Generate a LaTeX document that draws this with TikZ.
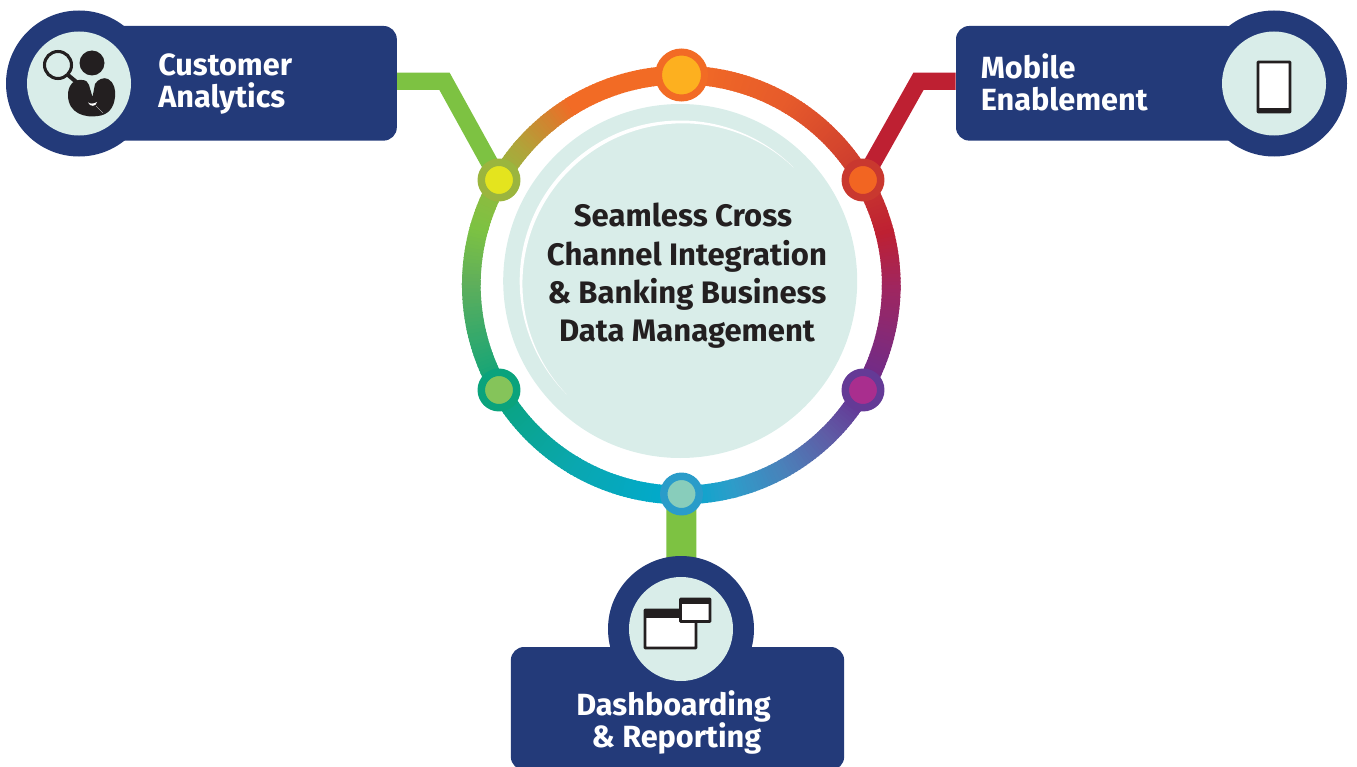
\documentclass[tikz,border=0pt]{standalone}
\usepackage{fontspec}
\setmainfont{Fira Sans}
\usepackage{xcolor}
\definecolor{navy}{HTML}{233A79}
\definecolor{paleteal}{HTML}{D9EDE9}
\definecolor{inkblack}{HTML}{231F20}
\definecolor{linkgreen}{HTML}{7DC242}
\definecolor{linkred}{HTML}{BE2032}
\definecolor{ringorange}{HTML}{F26B25}
\definecolor{ringamber}{HTML}{FDB01F}
\definecolor{ringbrick}{HTML}{C9382F}
\definecolor{ringflame}{HTML}{F26522}
\definecolor{ringviolet}{HTML}{643A96}
\definecolor{ringmagenta}{HTML}{A92E8E}
\definecolor{ringblue}{HTML}{2A9CC9}
\definecolor{ringmint}{HTML}{88CDBB}
\definecolor{ringteal}{HTML}{0AA37C}
\definecolor{ringleaf}{HTML}{85C45A}
\definecolor{ringolive}{HTML}{9BB53E}
\definecolor{ringyellow}{HTML}{E4E41E}
\usepackage{tikz}
\usetikzlibrary{
    backgrounds,
    positioning
}
\tikzstyle{panel} = [
    rectangle,
    rounded corners=10pt,
    fill=navy,
    inner sep=0pt
]
\tikzstyle{badge} = [
    circle,
    fill=navy,
    minimum size=109.5pt,
    inner sep=0pt
]
\tikzstyle{badgeface} = [
    circle,
    fill=paleteal,
    minimum size=78pt,
    inner sep=0pt
]
\tikzstyle{ringdot} = [
    circle,
    minimum size=26.6pt,
    line width=5.6pt,
    inner sep=0pt,
    outer sep=0pt
]
\tikzstyle{boxlabel} = [
    text=white,
    font=\fontsize{23}{24}\selectfont\bfseries,
    align=left,
    inner sep=0pt
]
\tikzstyle{link} = [
    line width=13pt,
    line join=miter
]
\tikzstyle{iconline} = [
    draw=inkblack,
    line width=2.2pt,
    rounded corners=0.6pt
]

\begin{document}
\begin{tikzpicture}[x=0.75pt, y=-0.75pt]
\useasboundingbox (0,0) rectangle (1357,767);

\coordinate (ringc) at (681.3,285);
\coordinate (discc) at (680.2,281);

% colour ring
\foreach \from/\to/\colfrom/\colto in {
    0/30/F26B25/E65A2B, 30/60/E65A2B/C9382F, 60/75/C9382F/BE2032,
    75/90/BE2032/A0265F, 90/120/A0265F/662D91, 120/135/662D91/5F5BA5,
    135/150/5F5BA5/4B80B9, 150/165/4B80B9/2E9CC9, 165/180/2E9CC9/00AACF,
    180/210/00AACF/0AA7B0, 210/240/0AA7B0/0AA37C, 240/270/0AA37C/5FAF5B,
    270/285/5FAF5B/7DC242, 285/300/7DC242/94B83E, 300/310/94B83E/B0A43A,
    310/320/B0A43A/D08530, 320/328/D08530/F26B25, 328/360/F26B25/F26B25} {
    \definecolor{spanfrom}{HTML}{\colfrom}
    \definecolor{spanto}{HTML}{\colto}
    \foreach \t in {\from,...,\to} {
        \pgfmathsetmacro{\pct}{100*(\t-\from)/(\to-\from)}
        \pgfmathsetmacro{\ang}{\t-90}
        \draw [spanto!\pct!spanfrom, line width=14pt]
            (ringc) ++(\ang:210) arc[start angle=\ang, delta angle=1.4, radius=210];
    }
}

% centre disc with its white crescent
\node (disc) [circle, fill=paleteal, minimum size=265.5pt, inner sep=0pt] at (discc) {};
\fill [white] (discc) ++(-45:160.5) arc[start angle=-45, end angle=-225, radius=160.5]
    arc[start angle=-223.6, end angle=-46.4, radius=160.5] -- cycle;
\node (title) [text=inkblack, font=\fontsize{23.3}{28.7}\selectfont\bfseries, align=center, inner sep=0pt] at (687,276)
    {Seamless Cross\hspace*{6pt}\\Channel Integration\\\& Banking Business\\Data Management};

% dots on the ring
\node (topdot) [ringdot, minimum size=34.5pt, line width=5.25pt, draw=ringorange, fill=ringamber] at (681.5,75) {};
\node (nedot) [ringdot, draw=ringbrick, fill=ringflame] at (863,180) {};
\node (sedot) [ringdot, draw=ringviolet, fill=ringmagenta] at (863,390) {};
\node (botdot) [ringdot, draw=ringblue, fill=ringmint] at (681.5,494) {};
\node (swdot) [ringdot, draw=ringteal, fill=ringleaf] at (499,390) {};
\node (nwdot) [ringdot, draw=ringolive, fill=ringyellow] at (499,180) {};

% customer analytics
\node (custpanel) [panel, minimum width=215pt, minimum height=86pt] at (253.5,83.3) {};
\node (custbadge) [badge] at (79,83.5) {};
\node (custface) [badgeface] at (79,83.5) {};
\node (custlabel) [boxlabel, anchor=west] at (158,84.5) {Customer\\Analytics};

% mobile enablement
\node (mobipanel) [panel, minimum width=213pt, minimum height=86pt] at (1098,83.3) {};
\node (mobibadge) [badge] at (1274,83.5) {};
\node (mobiface) [badgeface] at (1274,83.5) {};
\node (mobilabel) [boxlabel, anchor=west] at (980.5,82.5) {Mobile\\Enablement};

% dashboarding
\node (dashpanel) [panel, minimum width=250pt, minimum height=92.25pt] at (677.5,708.5) {};
\node (dashbadge) [badge] at (681,629) {};
\node (dashface) [badgeface] at (681,629) {};
\node (dashlabel) [boxlabel, align=center] at (673.5,722) {Dashboarding\\\hspace*{4.5pt}\& Reporting};

\begin{pgfonlayer}{background}
\coordinate (custbend) at (444.5,81.3);
\coordinate (mobibend) at (918.5,81.3);
\draw [link, linkgreen] (custbend -| custpanel.east) -- (custbend) -- (nwdot.center);
\draw [link, linkred] (mobibend -| mobipanel.west) -- (mobibend) -- (nedot.center);
\draw [linkgreen, line width=22.5pt] (botdot.center) -- (dashbadge.center);
\end{pgfonlayer}

% magnifier and person
\draw [inkblack, line width=2.3pt] (58,65) circle (13.5);
\draw [inkblack, line width=3pt] (68,75) -- (80,85);
\fill [inkblack] (92,63) circle (12.5);
\fill [inkblack] (68,95) .. controls (68,86) and (73,79) .. (82,80)
    .. controls (86,80) and (88,82) .. (89,85) -- (92.5,97) -- (95,84)
    .. controls (98,79) and (104,77) .. (108,79) .. controls (114,82) and (116,90) .. (115,97)
    .. controls (114,108) and (108,115) .. (98,116) .. controls (86,118) and (68,114) .. (68,95) -- cycle;
\fill [white] (88,102.5) .. controls (90,104) and (94,104) .. (97,102) .. controls (96,107) and (90,107) .. (88,102.5) -- cycle;
\draw [white, line width=0.2pt] (96,106) -- (103,113);

% tablet
\draw [iconline, fill=white] (1258,62) rectangle (1290,112);
\fill [inkblack] (1257,108) rectangle (1291,113);

% windows
\draw [iconline, fill=white] (645,610) rectangle (696,648);
\fill [inkblack] (644,609) rectangle (697,618);
\draw [iconline, fill=white] (680.5,599) rectangle (710,621.5);
\fill [inkblack] (680,598) rectangle (711,604);

\end{tikzpicture}
\end{document}
